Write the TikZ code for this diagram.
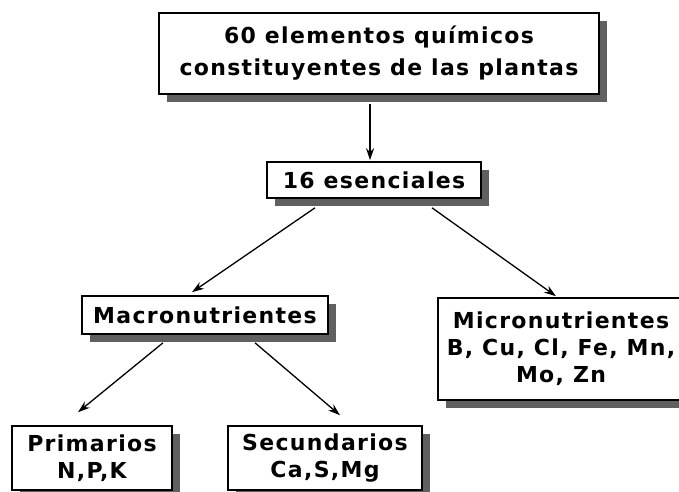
\documentclass[tikz,border=0pt]{standalone}
\usepackage{fontspec}
\setmainfont{DejaVu Sans}[LetterSpace=6]
\usepackage{xcolor}
\usepackage{tikz}
\usetikzlibrary{arrows.meta,shadows,calc}

\definecolor{shadowgray}{RGB}{96,96,96}

\tikzset{
  nodebox/.style={draw, line width=1.6pt, fill=white, inner sep=2pt,
    align=center, font=\bfseries\fontsize{22}{27}\selectfont,
    drop shadow={shadow xshift=8pt, shadow yshift=-8pt, fill=shadowgray, opacity=1}},
  link/.style={line width=1.3pt, -{Stealth[length=12pt,width=8pt]}}
}

\begin{document}
\begin{tikzpicture}[x=1pt,y=-1pt]
    \useasboundingbox (0,0) rectangle (679,491);
    \clip (0,0) rectangle (679,491);
    \node[nodebox,minimum width=440pt,minimum height=81pt] (elementos) at (379,53.5)
      {60 elementos químicos\\[5pt]constituyentes de las plantas};
    \node[nodebox,minimum width=214pt,minimum height=36pt] (esenciales) at (374,180)
      {16 esenciales};
    \node[nodebox,minimum width=246pt,minimum height=38pt] (macro) at (205,315)
      {Macronutrientes};
    \node[nodebox,minimum width=246pt,minimum height=102pt,inner sep=1pt] (micro) at (561,349)
      {Micronutrientes\\B, Cu, Cl, Fe, Mn,\\Mo, Zn};
    \node[nodebox,minimum width=160pt,minimum height=64pt] (primarios) at (92,458)
      {Primarios\\N,P,K};
    \node[nodebox,minimum width=194pt,minimum height=64pt] (secundarios) at (325,458)
      {Secundarios\\Ca,S,Mg};

    \draw[link] ($(elementos.south)+(-9,9)$) -- ($(esenciales.north)+(-4,-1)$);
    \draw[link] ($(esenciales.south)+(-59,9)$) -- ($(macro.north)+(-13,-3)$);
    \draw[link] ($(esenciales.south)+(58,9)$) -- ($(micro.north)+(-5,-1)$);
    \draw[link] ($(macro.south)+(-42,8)$) -- ($(primarios.north)+(-14,-13)$);
    \draw[link] ($(macro.south)+(50,8)$) -- ($(secundarios.north)+(15,-10)$);
\end{tikzpicture}
\end{document}
